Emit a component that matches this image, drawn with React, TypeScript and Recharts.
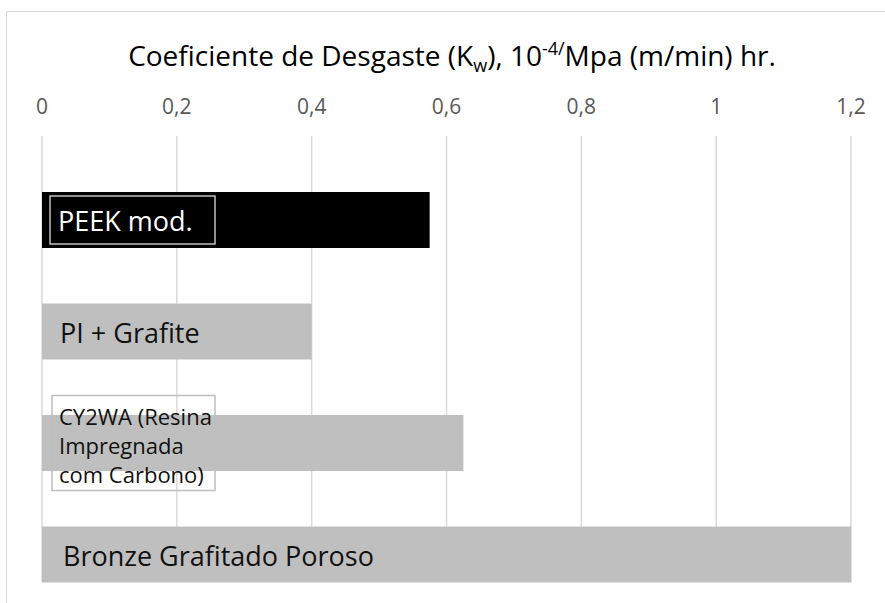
import React from 'react';
import { BarChart, Bar, XAxis, YAxis, CartesianGrid, Cell, LabelList } from 'recharts';

const categories = ['PEEK mod.', 'PI + Grafite', 'CY2WA (Resina Impregnada com Carbono)', 'Bronze Grafitado Poroso'];
const values = [0.575, 0.4, 0.625, 1.2];
const labelLines = [['PEEK mod.'], ['PI + Grafite'], ['CY2WA (Resina', 'Impregnada', 'com Carbono)'], ['Bronze Grafitado Poroso']];
const tickValues = [0, 0.2, 0.4, 0.6, 0.8, 1, 1.2];

const barColors = ['#000000', '#bfbfbf', '#bfbfbf', '#bfbfbf'];
const labelStyles = [
  { color: '#ffffff', size: 27, dx: 16, box: { dx: 8, w: 165, h: 48 } },
  { color: '#111111', size: 27, dx: 18, box: null },
  { color: '#111111', size: 22, dx: 17, box: { dx: 10, w: 163, h: 95 } },
  { color: '#111111', size: 27, dx: 21, box: null },
];

const data = categories.map((name, i) => ({ name, spacer: 0, value: values[i] }));

const fmt = (v: number) => String(v).replace('.', ',');

const Tick = (props: any) => {
  const { x, payload } = props;
  return (
    <text x={x} y={114} textAnchor="middle" fill="#595959" fontSize={21} fontFamily="Open Sans">
      {fmt(payload.value)}
    </text>
  );
};

const renderLabel = (props: any) => {
  const { x, y, height, index } = props;
  const st = labelStyles[index];
  const lines = labelLines[index];
  const cy = y + height / 2;
  const n = lines.length;
  const lh = 29;
  return (
    <g key={`lbl-${index}`}>
      {st.box && (
        <rect
          x={x + st.box.dx}
          y={cy - st.box.h / 2}
          width={st.box.w}
          height={st.box.h}
          fill="none"
          stroke="#bfbfbf"
          strokeWidth={1.5}
        />
      )}
      {lines.map((ln, i) => (
        <text
          key={i}
          x={x + st.dx}
          y={cy + 11 + (i - (n - 1) / 2) * lh}
          fill={st.color}
          fontSize={st.size}
          fontFamily="Open Sans"
        >
          {ln}
        </text>
      ))}
    </g>
  );
};

export default function App() {
  return (
    <div style={{ position: 'absolute', left: 0, top: 0, width: 885, height: 603, background: '#fff', overflow: 'hidden' }}>
      <div
        style={{
          position: 'absolute',
          left: 6,
          top: 11,
          width: 1000,
          height: 700,
          borderLeft: '1px solid #d9d9d9',
          borderTop: '1px solid #d9d9d9',
        }}
      />
      <svg width={885} height={100} style={{ position: 'absolute', left: 0, top: 0 }}>
        <text x={452} y={66} fontSize={28} fontFamily="Open Sans" fill="#000" textAnchor="middle">
          Coeficiente de Desgaste (K
          <tspan fontSize={18} dy={6}>w</tspan>
          <tspan dy={-6}>), 10</tspan>
          <tspan fontSize={18} dy={-11}>-4/</tspan>
          <tspan dy={11}>Mpa (m/min) hr.</tspan>
        </text>
      </svg>
      <div style={{ position: 'absolute', left: 0, top: 0 }}>
        <BarChart
          width={885}
          height={603}
          data={data}
          layout="vertical"
          margin={{ top: 106, right: 34, bottom: 21, left: 42 }}
          barCategoryGap={0}
          barGap={0}
        >
          <CartesianGrid horizontal={false} vertical={true} stroke="#d9d9d9" strokeWidth={1.5} />
          <XAxis
            type="number"
            orientation="top"
            domain={[0, 1.2]}
            ticks={tickValues}
            interval={0}
            axisLine={false}
            tickLine={false}
            height={30}
            tick={<Tick />}
          />
          <YAxis type="category" dataKey="name" hide width={0} />
          <Bar dataKey="spacer" isAnimationActive={false} fill="none" />
          <Bar dataKey="value" isAnimationActive={false}>
            {data.map((d, i) => (
              <Cell key={i} fill={barColors[i]} />
            ))}
            <LabelList dataKey="value" content={renderLabel} />
          </Bar>
        </BarChart>
      </div>
    </div>
  );
}
